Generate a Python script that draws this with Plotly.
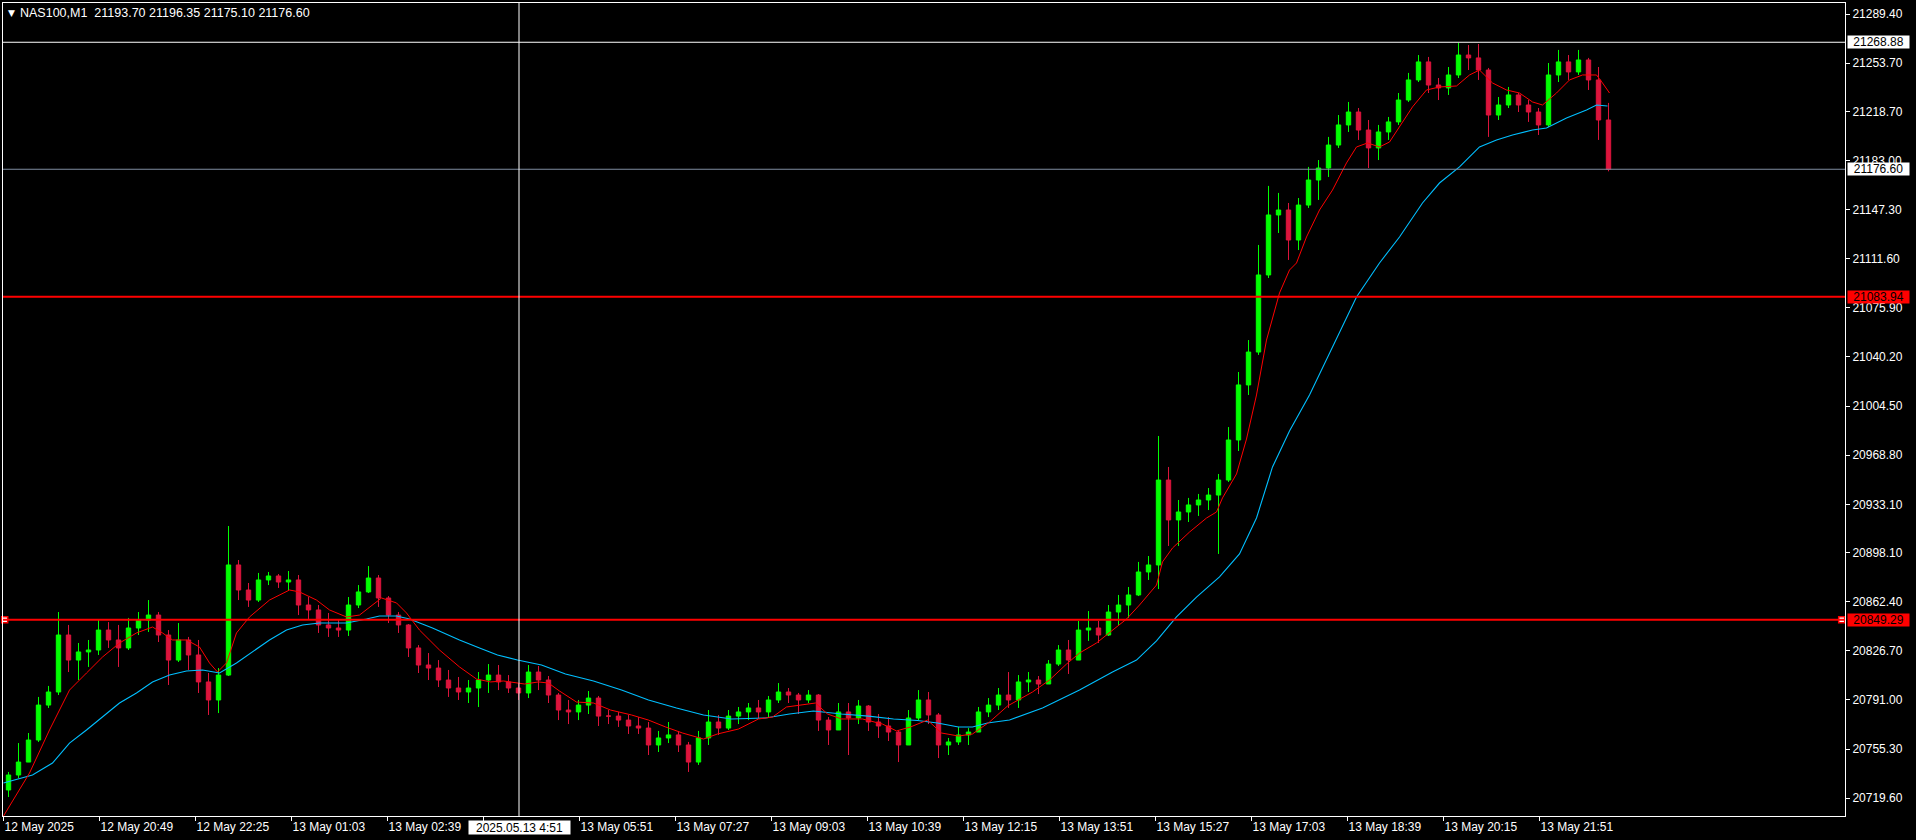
import plotly.graph_objects as go

# ---------------- data ----------------
symbol_title = "NAS100,M1"
last_ohlc = ["21193.70", "21196.35", "21175.10", "21176.60"]

# candle positions in M1-bar units (each candle aggregates 10 one-minute bars)
bar_pos = list(range(5, 1611, 10))

open_ = [20725.6, 20736.5, 20745.9, 20761.9, 20787.3, 20796.8, 20838.2, 20820.0, 20825.9, 20827.3,
         20841.8, 20834.6, 20828.8, 20843.3, 20849.1, 20852.7, 20838.2, 20820.0, 20834.6, 20823.7,
         20804.1, 20791.0, 20809.1, 20889.1, 20870.9, 20863.6, 20878.2, 20881.1, 20876.7, 20878.2,
         20860.0, 20856.4, 20845.5, 20843.3, 20841.8, 20860.0, 20869.5, 20879.6, 20865.1, 20852.7,
         20845.5, 20828.8, 20816.4, 20814.2, 20805.5, 20799.7, 20796.8, 20799.7, 20805.5, 20809.1,
         20804.1, 20799.7, 20796.1, 20811.3, 20805.5, 20794.6, 20783.7, 20782.3, 20787.3, 20792.4,
         20779.3, 20779.3, 20776.4, 20772.1, 20770.6, 20758.3, 20763.4, 20765.6, 20758.3, 20745.9,
         20763.4, 20775.0, 20770.6, 20779.3, 20782.3, 20785.2, 20782.3, 20791.0, 20796.8, 20794.6,
         20791.0, 20794.6, 20776.4, 20769.2, 20782.3, 20777.9, 20786.6, 20775.0, 20772.1, 20767.7,
         20758.3, 20777.9, 20791.0, 20780.1, 20758.3, 20760.5, 20765.6, 20767.7, 20782.3, 20787.3,
         20794.6, 20791.0, 20804.1, 20805.5, 20802.6, 20817.1, 20827.3, 20820.0, 20841.8, 20843.3,
         20838.2, 20854.9, 20860.0, 20867.3, 20884.0, 20889.1, 20950.8, 20921.8, 20927.6, 20932.7,
         20936.3, 20939.9, 20950.8, 20979.9, 21019.9, 21043.8, 21099.8, 21143.4, 21147.0, 21125.2,
         21150.6, 21168.8, 21177.5, 21194.2, 21208.8, 21218.2, 21205.1, 21192.1, 21203.7, 21211.0,
         21226.9, 21241.5, 21254.6, 21237.8, 21235.7, 21245.1, 21259.6, 21257.5, 21248.7, 21216.0,
         21223.3, 21230.6, 21223.3, 21218.2, 21208.8, 21245.1, 21254.6, 21247.3, 21256.0, 21241.5,
         21212.4]

high_ = [20738.7, 20759.7, 20767.0, 20793.2, 20801.2, 20854.9, 20845.5, 20832.4, 20834.6, 20849.1,
         20847.6, 20845.5, 20850.6, 20854.9, 20863.6, 20854.9, 20841.8, 20846.9, 20836.8, 20834.6,
         20810.6, 20814.2, 20917.4, 20892.7, 20876.0, 20883.3, 20884.0, 20882.5, 20884.7, 20881.8,
         20865.8, 20860.0, 20854.2, 20849.1, 20865.8, 20874.5, 20888.3, 20881.8, 20866.5, 20854.9,
         20846.2, 20830.9, 20825.1, 20820.0, 20812.8, 20807.7, 20805.5, 20811.3, 20817.1, 20816.4,
         20809.1, 20803.3, 20816.4, 20815.7, 20808.4, 20796.1, 20791.0, 20791.0, 20797.5, 20793.9,
         20783.7, 20782.3, 20780.1, 20778.6, 20775.0, 20768.5, 20775.0, 20768.5, 20760.5, 20768.5,
         20783.7, 20780.1, 20783.7, 20785.9, 20788.8, 20791.0, 20793.9, 20803.3, 20799.7, 20796.1,
         20798.2, 20795.3, 20778.6, 20788.8, 20788.8, 20791.0, 20787.3, 20780.8, 20778.6, 20769.2,
         20783.7, 20798.2, 20796.8, 20781.5, 20763.4, 20771.4, 20770.6, 20785.9, 20792.4, 20799.7,
         20811.3, 20809.1, 20811.3, 20808.4, 20820.0, 20830.9, 20834.6, 20848.4, 20855.6, 20848.4,
         20860.0, 20867.3, 20873.1, 20891.3, 20895.6, 20982.8, 20960.3, 20936.3, 20937.8, 20940.7,
         20945.0, 20955.2, 20989.3, 21029.3, 21052.5, 21121.6, 21164.5, 21159.4, 21152.1, 21155.7,
         21178.3, 21183.3, 21200.1, 21216.0, 21225.5, 21221.1, 21212.4, 21208.8, 21214.6, 21232.0,
         21246.6, 21259.6, 21258.2, 21242.9, 21250.9, 21268.4, 21266.9, 21267.6, 21250.2, 21229.1,
         21236.4, 21232.0, 21226.9, 21221.1, 21253.8, 21263.3, 21259.6, 21263.3, 21257.5, 21250.9,
         21224.8]

low_ = [20720.5, 20734.3, 20751.0, 20760.5, 20785.2, 20794.6, 20811.3, 20805.5, 20815.0, 20823.7,
        20828.8, 20815.0, 20827.3, 20838.2, 20840.4, 20833.1, 20801.9, 20818.6, 20812.8, 20796.1,
        20780.1, 20781.5, 20808.4, 20863.6, 20858.6, 20862.2, 20874.5, 20872.4, 20870.9, 20852.7,
        20849.1, 20839.7, 20836.8, 20836.8, 20837.5, 20857.8, 20868.7, 20858.6, 20846.9, 20839.7,
        20822.2, 20810.6, 20805.5, 20800.4, 20793.2, 20791.0, 20788.8, 20785.9, 20796.1, 20798.2,
        20796.1, 20791.0, 20792.4, 20798.2, 20788.8, 20776.4, 20773.5, 20776.4, 20780.8, 20772.1,
        20773.5, 20771.4, 20766.3, 20766.3, 20751.0, 20753.2, 20759.7, 20753.2, 20738.7, 20743.8,
        20758.3, 20765.6, 20769.2, 20773.5, 20776.4, 20777.2, 20778.6, 20788.8, 20788.8, 20780.8,
        20788.8, 20768.5, 20758.3, 20769.2, 20751.0, 20773.5, 20768.5, 20763.4, 20761.2, 20745.9,
        20758.3, 20776.4, 20773.5, 20748.8, 20751.0, 20758.3, 20758.3, 20767.7, 20778.6, 20783.7,
        20785.2, 20785.2, 20796.8, 20795.3, 20802.6, 20815.7, 20809.9, 20820.0, 20833.9, 20832.4,
        20837.5, 20845.5, 20850.6, 20866.5, 20878.2, 20871.6, 20902.9, 20902.9, 20920.3, 20924.7,
        20929.0, 20897.1, 20949.4, 20971.9, 21012.6, 21041.7, 21097.6, 21130.3, 21110.7, 21117.9,
        21148.5, 21154.3, 21171.0, 21192.1, 21203.7, 21197.9, 21177.5, 21183.3, 21197.9, 21208.8,
        21225.5, 21240.0, 21232.0, 21226.9, 21230.6, 21242.9, 21248.7, 21241.5, 21200.1, 21212.4,
        21221.1, 21218.2, 21211.0, 21201.5, 21207.3, 21240.0, 21241.5, 21245.1, 21234.2, 21197.9,
        21175.1]

close_ = [20736.5, 20745.9, 20761.9, 20787.3, 20796.8, 20838.2, 20820.0, 20825.9, 20827.3, 20841.8,
          20834.6, 20828.8, 20843.3, 20849.1, 20852.7, 20838.2, 20820.0, 20834.6, 20823.7, 20804.1,
          20791.0, 20809.1, 20889.1, 20870.9, 20863.6, 20878.2, 20881.1, 20876.7, 20878.2, 20860.0,
          20856.4, 20845.5, 20843.3, 20841.8, 20860.0, 20869.5, 20879.6, 20865.1, 20852.7, 20845.5,
          20828.8, 20816.4, 20814.2, 20805.5, 20799.7, 20796.8, 20799.7, 20805.5, 20809.1, 20804.1,
          20799.7, 20796.1, 20811.3, 20805.5, 20794.6, 20783.7, 20782.3, 20787.3, 20792.4, 20779.3,
          20779.3, 20776.4, 20772.1, 20770.6, 20758.3, 20763.4, 20765.6, 20758.3, 20745.9, 20763.4,
          20775.0, 20770.6, 20779.3, 20782.3, 20785.2, 20782.3, 20791.0, 20796.8, 20794.6, 20791.0,
          20794.6, 20776.4, 20769.2, 20782.3, 20777.9, 20786.6, 20775.0, 20772.1, 20767.7, 20758.3,
          20777.9, 20791.0, 20780.1, 20758.3, 20760.5, 20765.6, 20767.7, 20782.3, 20787.3, 20794.6,
          20791.0, 20804.1, 20805.5, 20802.6, 20817.1, 20827.3, 20820.0, 20841.8, 20843.3, 20838.2,
          20854.9, 20860.0, 20867.3, 20884.0, 20889.1, 20950.8, 20921.8, 20927.6, 20932.7, 20936.3,
          20939.9, 20950.8, 20979.9, 21019.9, 21043.8, 21099.8, 21143.4, 21147.0, 21125.2, 21150.6,
          21168.8, 21177.5, 21194.2, 21208.8, 21218.2, 21205.1, 21192.1, 21203.7, 21211.0, 21226.9,
          21241.5, 21254.6, 21237.8, 21235.7, 21245.1, 21259.6, 21257.5, 21248.7, 21216.0, 21223.3,
          21230.6, 21223.3, 21218.2, 21208.8, 21245.1, 21254.6, 21247.3, 21256.0, 21241.5, 21212.4,
          21176.6]

# fast moving average (red)
ma_fast_bar = [0, 26, 46, 66, 83, 99, 116, 133, 149, 159, 169, 183, 196, 206, 214, 223, 233, 246, 266, 286,
               296, 313, 326, 343, 356, 366, 378, 393, 403, 416, 436, 456, 473, 487, 500, 521, 535, 545, 556, 573,
               590, 607, 628, 645, 662, 679, 700, 714, 735, 755, 769, 783, 797, 812, 824, 838, 859, 879, 893, 907,
               924, 938, 955, 969, 986, 1004, 1029, 1046, 1063, 1076, 1093, 1106, 1123, 1136, 1153, 1159, 1169, 1186, 1203, 1213,
               1219, 1233, 1243, 1253, 1263, 1276, 1286, 1293, 1303, 1316, 1329, 1343, 1353, 1364, 1376, 1386, 1396, 1409, 1423, 1436,
               1453, 1466, 1476, 1489, 1503, 1516, 1529, 1539, 1553, 1566, 1579, 1593, 1599, 1606]
ma_fast_val = [20706.7, 20737.9, 20769.2, 20798.2, 20810.6, 20822.2, 20832.4, 20839.7, 20844.0, 20839.7,
               20834.6, 20834.6, 20829.5, 20817.9, 20811.3, 20817.9, 20839.7, 20851.3, 20863.6, 20870.9,
               20869.5, 20863.6, 20856.4, 20851.3, 20852.7, 20858.6, 20865.1, 20861.5, 20854.2, 20841.8,
               20827.3, 20815.0, 20806.2, 20804.1, 20804.8, 20802.6, 20804.1, 20803.3, 20797.5, 20789.5,
               20788.8, 20783.7, 20780.1, 20776.4, 20771.4, 20767.0, 20762.6, 20766.3, 20769.9, 20777.2,
               20778.6, 20785.9, 20787.3, 20788.8, 20780.8, 20777.2, 20777.2, 20773.5, 20768.5, 20771.4,
               20776.4, 20767.0, 20764.8, 20766.3, 20775.0, 20786.6, 20796.8, 20805.5, 20817.1, 20825.1,
               20832.4, 20839.7, 20849.8, 20860.0, 20874.5, 20891.3, 20901.4, 20913.0, 20923.2, 20927.6,
               20937.8, 20955.2, 20980.6, 21012.6, 21052.5, 21086.7, 21103.4, 21108.5, 21127.4, 21147.0,
               21161.5, 21181.2, 21192.8, 21195.7, 21192.8, 21196.4, 21207.3, 21221.9, 21234.2, 21236.4,
               21237.1, 21245.1, 21248.7, 21239.3, 21234.2, 21232.0, 21225.5, 21223.3, 21232.0, 21241.5,
               21245.1, 21245.1, 21239.3, 21232.0]

# slow moving average (blue)
ma_slow_bar = [0, 29, 49, 66, 83, 99, 116, 133, 149, 166, 183, 199, 216, 233, 249, 266, 283, 299, 316, 343,
               363, 376, 393, 406, 429, 456, 476, 494, 514, 538, 562, 590, 618, 645, 673, 700, 728, 762, 786, 810,
               838, 865, 890, 914, 934, 955, 969, 984, 1006, 1039, 1076, 1109, 1133, 1153, 1173, 1193, 1216, 1236, 1253, 1269,
               1286, 1306, 1353, 1376, 1396, 1419, 1436, 1456, 1476, 1493, 1509, 1529, 1543, 1563, 1583, 1593, 1604]
ma_slow_val = [20730.7, 20736.5, 20745.2, 20759.7, 20769.2, 20778.6, 20788.8, 20796.1, 20804.1, 20809.1,
               20812.1, 20812.8, 20810.6, 20817.9, 20825.9, 20834.6, 20841.8, 20845.5, 20846.9, 20846.9,
               20849.8, 20852.0, 20852.0, 20849.8, 20843.3, 20834.6, 20828.8, 20823.7, 20820.0, 20816.4,
               20809.9, 20804.8, 20798.2, 20791.0, 20785.2, 20780.1, 20777.2, 20777.9, 20780.8, 20783.0,
               20780.8, 20779.3, 20777.2, 20776.1, 20774.3, 20771.4, 20771.4, 20774.3, 20776.4, 20785.2,
               20798.2, 20811.3, 20820.0, 20833.9, 20851.3, 20865.8, 20880.4, 20897.1, 20923.2, 20960.3,
               20986.4, 21012.6, 21083.8, 21108.5, 21127.4, 21152.1, 21166.6, 21178.3, 21192.8, 21197.9,
               21201.5, 21205.1, 21206.6, 21213.9, 21219.6, 21223.3, 21222.6]

level_prices = [21083.94, 20849.29]
bid_price = 21176.60
crosshair_price = 21268.88
crosshair_bar = 515.5
crosshair_label = "2025.05.13 4:51"

y_tick_vals = [21289.40, 21253.70, 21218.70, 21183.00, 21147.30, 21111.60, 21075.90, 21040.20, 21004.50,
               20968.80, 20933.10, 20898.10, 20862.40, 20826.70, 20791.00, 20755.30, 20719.60]
x_tick_bars = [0, 96, 192, 288, 384, 480, 576, 672, 768, 864, 960, 1056, 1152, 1248, 1344, 1440, 1536]
x_tick_text = ["12 May 2025", "12 May 20:49", "12 May 22:25", "13 May 01:03", "13 May 02:39", "",
               "13 May 05:51", "13 May 07:27", "13 May 09:03", "13 May 10:39", "13 May 12:15",
               "13 May 13:51", "13 May 15:27", "13 May 17:03", "13 May 18:39", "13 May 20:15", "13 May 21:51"]

# ---------------- figure ----------------
FONT = "Liberation Sans, Arial, sans-serif"
BULL = "#00ff00"
BEAR = "#dc143c"

fig = go.Figure()
fig.add_trace(go.Candlestick(
    x=bar_pos, open=open_, high=high_, low=low_, close=close_,
    increasing=dict(line=dict(color=BULL, width=1), fillcolor=BULL),
    decreasing=dict(line=dict(color=BEAR, width=1), fillcolor=BEAR),
    whiskerwidth=0, hoverinfo="skip", showlegend=False))
fig.add_trace(go.Scatter(x=ma_slow_bar, y=ma_slow_val, mode="lines",
                         line=dict(color="#00bfff", width=1.1), hoverinfo="skip", showlegend=False))
fig.add_trace(go.Scatter(x=ma_fast_bar, y=ma_fast_val, mode="lines",
                         line=dict(color="#ff0000", width=1), hoverinfo="skip", showlegend=False))

# small anchor squares of the 20849.29 level
fig.add_trace(go.Scatter(x=[1.2, 1838.2], y=[level_prices[1]] * 2, mode="markers",
                         marker=dict(symbol="square", size=6, color="white", line=dict(color="#ff0000", width=1.5)),
                         cliponaxis=False, hoverinfo="skip", showlegend=False))

shapes = []
shapes.append(dict(type="line", xref="paper", x0=0, x1=1, yref="y", y0=crosshair_price, y1=crosshair_price,
                   line=dict(color="white", width=1)))
shapes.append(dict(type="line", xref="paper", x0=0, x1=1, yref="y", y0=bid_price, y1=bid_price,
                   line=dict(color="#7f8ca0", width=1)))
for p in level_prices:
    shapes.append(dict(type="line", xref="paper", x0=0, x1=1, yref="y", y0=p, y1=p,
                       line=dict(color="#ff0000", width=2)))
shapes.append(dict(type="line", xref="x", x0=crosshair_bar, x1=crosshair_bar, yref="paper", y0=0, y1=1,
                   line=dict(color="white", width=1)))

annotations = []
# title
annotations.append(dict(xref="paper", yref="paper", x=0, y=1, xanchor="center", yanchor="middle",
                        xshift=8, yshift=-10, text="▼", showarrow=False,
                        font=dict(family="DejaVu Sans", size=9, color="white")))
annotations.append(dict(xref="paper", yref="paper", x=0, y=1, xanchor="left", yanchor="middle",
                        xshift=15, yshift=-9.5,
                        text=symbol_title + "\u00a0\u00a0" + " ".join(last_ohlc), showarrow=False,
                        font=dict(family=FONT, size=12.5, color="white")))
# price boxes on the right axis
for p, bg in [(crosshair_price, "white"), (bid_price, "white"),
              (level_prices[0], "#ff0000"), (level_prices[1], "#ff0000")]:
    annotations.append(dict(xref="paper", yref="y", x=1, y=p, xanchor="left", yanchor="middle", xshift=2,
                            text=f"{p:.2f}", showarrow=False, bgcolor=bg, borderpad=0, width=61, height=12,
                            font=dict(family=FONT, size=12, color="black")))
# crosshair time box
annotations.append(dict(xref="x", yref="paper", x=crosshair_bar, y=0, xanchor="center", yanchor="top", yshift=-4,
                        text=crosshair_label, showarrow=False, bgcolor="white", borderpad=0, width=101, height=13,
                        font=dict(family=FONT, size=12, color="black")))

fig.update_layout(
    width=1916, height=840,
    margin=dict(l=3, r=71, t=3, b=24, pad=0),
    paper_bgcolor="black", plot_bgcolor="black",
    font=dict(family=FONT, size=12, color="white"),
    showlegend=False, hovermode=False,
    boxgap=0.45, boxgroupgap=0.2,
    shapes=shapes, annotations=annotations,
)
fig.update_xaxes(
    range=[-0.5, 1841.5], rangeslider_visible=False,
    showgrid=False, zeroline=False,
    showline=True, linecolor="white", linewidth=1, mirror=True,
    ticks="outside", ticklen=4, tickcolor="white", tickwidth=1,
    tickvals=x_tick_bars, ticktext=x_tick_text, ticklabelposition="outside right",
    tickfont=dict(family=FONT, size=12, color="white"),
)
fig.update_yaxes(
    range=[20706.7, 21297.4], side="right",
    showgrid=False, zeroline=False,
    showline=True, linecolor="white", linewidth=1, mirror=True,
    ticks="outside", ticklen=4, tickcolor="white", tickwidth=1,
    tickvals=y_tick_vals, ticktext=[f"{v:.2f}" for v in y_tick_vals],
    tickfont=dict(family=FONT, size=12, color="white"),
)

fig.write_html("out.html", config={"displayModeBar": False},
               post_script="document.body.style.margin='0';document.body.style.overflow='hidden';document.body.style.background='#000';")
